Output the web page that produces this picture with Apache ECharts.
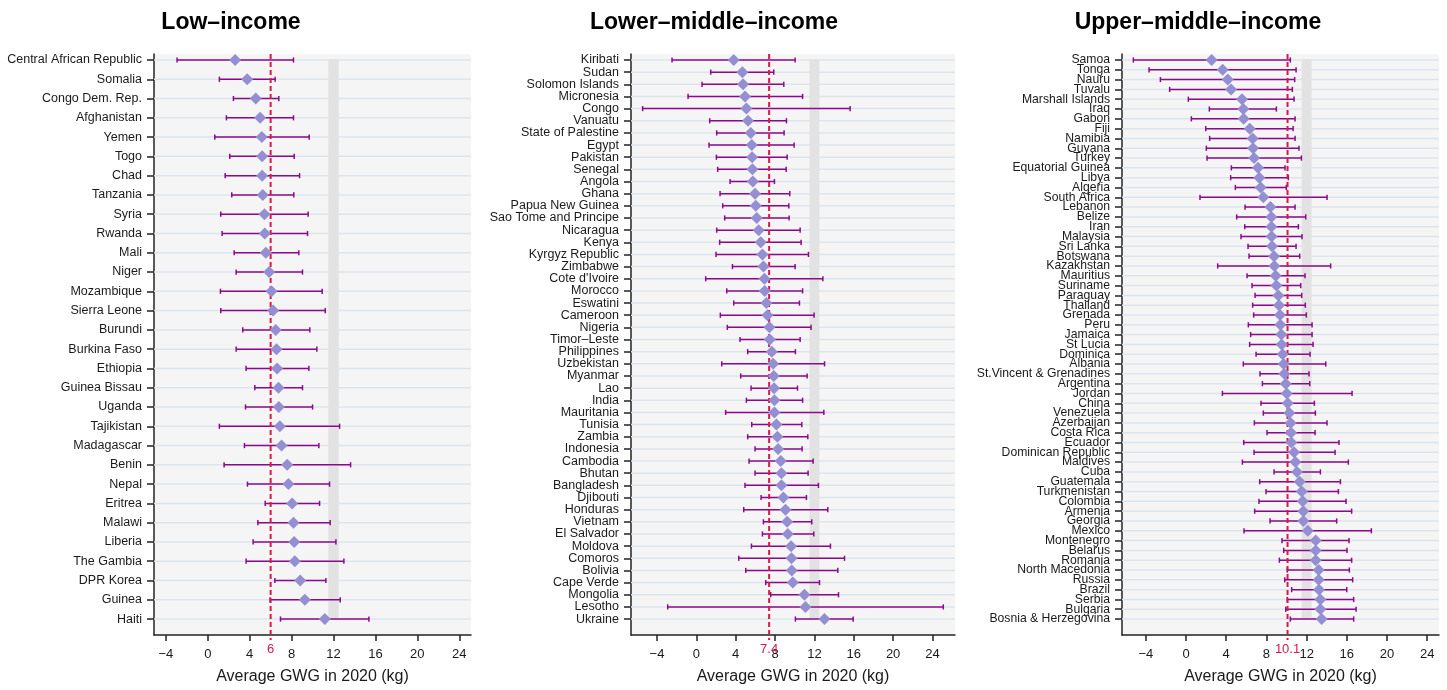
<!DOCTYPE html>
<html>
<head>
<meta charset="utf-8">
<script src="https://cdn.jsdelivr.net/npm/echarts@6/dist/echarts.min.js"></script>
<style>
html,body{margin:0;padding:0;background:#fff;}
#chart{width:1447px;height:690px;}
</style>
</head>
<body>
<div id="chart"></div>
<script>
// ---------- DATA ----------
const panelTitles = ['Low\u2013income', 'Lower\u2013middle\u2013income', 'Upper\u2013middle\u2013income'];
const axisTitle = 'Average GWG in 2020 (kg)';
const xTicks = [-4, 0, 4, 8, 12, 16, 20, 24];
const refValues = [6, 7.4, 10.1];
const bandRange = [11.5, 12.5];

const lowNames = ['Central African Republic','Somalia','Congo Dem. Rep.','Afghanistan','Yemen','Togo','Chad','Tanzania','Syria','Rwanda','Mali','Niger','Mozambique','Sierra Leone','Burundi','Burkina Faso','Ethiopia','Guinea Bissau','Uganda','Tajikistan','Madagascar','Benin','Nepal','Eritrea','Malawi','Liberia','The Gambia','DPR Korea','Guinea','Haiti'];
const lowMean = [2.61,3.76,4.58,5.0,5.16,5.19,5.19,5.25,5.41,5.44,5.54,5.86,6.08,6.24,6.49,6.56,6.62,6.75,6.78,6.88,7.04,7.58,7.70,8.05,8.18,8.25,8.31,8.82,9.26,11.17];
const lowLower = [-2.93,1.11,2.45,1.78,0.67,2.10,1.66,2.29,1.24,1.37,2.52,2.71,1.21,1.24,3.34,2.71,3.66,4.49,3.60,1.11,3.50,1.56,3.79,5.48,4.78,4.33,3.66,6.40,5.95,6.94];
const lowUpper = [8.18,6.43,6.78,8.18,9.68,8.25,8.76,8.21,9.58,9.52,8.69,9.04,10.92,11.21,9.74,10.41,9.65,9.04,10.0,12.58,10.6,13.63,11.62,10.67,11.68,12.23,12.99,11.27,12.64,15.38];

const lmNames = ['Kiribati','Sudan','Solomon Islands','Micronesia','Congo','Vanuatu','State of Palestine','Egypt','Pakistan','Senegal','Angola','Ghana','Papua New Guinea','Sao Tome and Principe','Nicaragua','Kenya','Kyrgyz Republic','Zimbabwe','Cote d\'Ivoire','Morocco','Eswatini','Cameroon','Nigeria','Timor\u2013Leste','Philippines','Uzbekistan','Myanmar','Lao','India','Mauritania','Tunisia','Zambia','Indonesia','Cambodia','Bhutan','Bangladesh','Djibouti','Honduras','Vietnam','El Salvador','Moldova','Comoros','Bolivia','Cape Verde','Mongolia','Lesotho','Ukraine'];
const lmMean = [3.80,4.68,4.75,4.95,5.09,5.26,5.53,5.63,5.67,5.70,5.74,5.97,6.04,6.14,6.34,6.55,6.72,6.82,6.92,6.95,7.12,7.23,7.43,7.46,7.67,7.80,7.87,7.90,7.94,7.94,8.14,8.24,8.31,8.58,8.65,8.65,8.85,9.06,9.23,9.30,9.63,9.67,9.70,9.80,10.99,11.09,13.02];
const lmLower = [-2.47,1.46,0.58,-0.84,-5.46,1.36,2.07,1.29,2.04,2.17,3.43,2.41,2.68,2.88,2.07,2.37,2.0,3.67,0.95,3.09,3.80,2.44,3.15,4.44,5.22,2.58,4.51,5.56,5.09,2.98,5.63,5.22,5.97,5.36,5.97,4.95,6.58,4.82,6.82,6.72,5.60,4.31,5.02,7.05,7.56,-2.91,10.07];
const lmUpper = [10.04,7.87,8.89,10.8,15.63,9.16,8.92,9.94,9.23,9.13,7.94,9.50,9.40,9.43,10.55,10.65,11.4,10.04,12.86,10.8,10.48,11.97,11.66,10.55,10.07,13.03,11.26,10.28,10.80,12.96,10.72,11.33,10.75,11.87,11.36,12.41,11.19,13.36,11.73,11.94,13.63,15.06,14.38,12.52,14.45,25.1,15.94];

const umNames = ['Samoa','Tonga','Nauru','Tuvalu','Marshall Islands','Iraq','Gabon','Fiji','Namibia','Guyana','Turkey','Equatorial Guinea','Libya','Algeria','South Africa','Lebanon','Belize','Iran','Malaysia','Sri Lanka','Botswana','Kazakhstan','Mauritius','Suriname','Paraguay','Thailand','Grenada','Peru','Jamaica','St Lucia','Dominica','Albania','St.Vincent & Grenadines','Argentina','Jordan','China','Venezuela','Azerbaijan','Costa Rica','Ecuador','Dominican Republic','Maldives','Cuba','Guatemala','Turkmenistan','Colombia','Armenia','Georgia','Mexico','Montenegro','Belarus','Romania','North Macedonia','Russia','Brazil','Serbia','Bulgaria','Bosnia & Herzegovina'];
const umMean = [2.55,3.65,4.15,4.48,5.57,5.70,5.74,6.34,6.63,6.67,6.77,7.16,7.30,7.43,7.69,8.39,8.49,8.49,8.52,8.56,8.76,8.79,8.92,8.99,9.19,9.25,9.35,9.39,9.49,9.52,9.62,9.72,9.78,9.92,10.02,10.12,10.28,10.41,10.45,10.48,10.75,10.88,11.04,11.31,11.51,11.61,11.67,11.67,12.11,12.90,12.90,12.90,13.20,13.20,13.23,13.37,13.37,13.50];
const umLower = [-5.24,-3.68,-2.55,-1.63,0.23,2.32,0.53,1.96,2.35,2.02,2.09,4.51,4.44,4.91,1.39,5.87,5.04,5.84,5.47,6.17,6.27,3.15,6.07,6.57,6.87,6.63,6.73,6.20,6.43,6.33,6.97,5.70,7.36,7.60,3.62,7.46,7.69,6.80,8.06,5.74,6.77,5.61,8.76,7.33,7.96,7.26,6.83,8.36,5.77,9.55,9.72,9.29,10.08,9.82,10.51,10.08,9.92,10.38];
const umUpper = [10.38,10.95,10.81,10.58,10.75,8.99,10.85,10.65,10.85,11.24,11.48,9.85,10.18,9.98,14.03,10.85,11.91,11.18,11.54,10.95,11.31,14.39,11.84,11.41,11.51,11.87,11.97,12.54,12.54,12.64,12.34,13.90,12.24,12.31,16.52,12.77,12.87,14.03,12.84,15.22,14.83,16.15,13.37,15.36,15.16,15.92,16.48,14.99,18.44,16.22,16.02,16.48,16.25,16.58,15.99,16.68,16.92,16.68];

// ---------- LAYOUT / STYLE ----------
const panels = [
  {names: lowNames, mean: lowMean, lower: lowLower, upper: lowUpper, left: 154, width: 317, xMin: -5.13, xMax: 25.12, titleX: 226, labelSize: 12.5},
  {names: lmNames, mean: lmMean, lower: lmLower, upper: lmUpper, left: 631, width: 324, xMin: -6.64, xMax: 26.29, titleX: 709, labelSize: 12.5},
  {names: umNames, mean: umMean, lower: umLower, upper: umUpper, left: 1122, width: 317, xMin: -6.37, xMax: 25.17, titleX: 1193, labelSize: 12.2}
];
const gridTop = 54, gridBottomY = 637, firstRowY = 60, lastRowY = 621;
const FONT = '"Liberation Sans", Arial, Helvetica, sans-serif';
const TXT = '#1a1a1a';
const BAR = '#8b0a8b';
const DIAMOND = '#948ed3';
const RED = '#d6184a';

const option = {
  animation: false,
  backgroundColor: '#ffffff',
  title: [], grid: [], xAxis: [], yAxis: [], series: []
};

function fmtTick(v) { return v < 0 ? '\u2212' + Math.abs(v) : String(v); }

panels.forEach((p, k) => {
  const n = p.names.length;
  const spacing = (lastRowY - firstRowY) / (n - 1);
  const yMin = 1 - (firstRowY - gridTop) / spacing;
  const yMax = n + (gridBottomY - lastRowY) / spacing;
  const rows = p.names.map((_, i) => i + 1);
  const oddRows = rows.filter(r => r % 2 === 1);
  const evenRows = rows.filter(r => r % 2 === 0);
  const yi = 2 * k;

  option.title.push({
    text: panelTitles[k], left: p.titleX, top: 6, textAlign: 'center',
    textStyle: {fontFamily: FONT, fontSize: 23, fontWeight: 'bold', color: '#000'}
  });
  option.grid.push({
    left: p.left, width: p.width, top: gridTop, height: gridBottomY - gridTop,
    show: true, backgroundColor: '#f5f5f5', borderWidth: 0
  });
  option.xAxis.push({
    type: 'value', gridIndex: k, min: p.xMin, max: p.xMax,
    name: axisTitle, nameLocation: 'middle', nameGap: 34,
    nameTextStyle: {fontFamily: FONT, fontSize: 16, color: TXT},
    axisLine: {show: true, onZero: false, lineStyle: {color: '#222', width: 1.5}},
    axisTick: {show: true, length: 6, customValues: xTicks, lineStyle: {color: '#222', width: 1.5}},
    axisLabel: {customValues: xTicks, formatter: fmtTick, margin: 13, fontFamily: FONT, fontSize: 13, color: TXT,
      showMinLabel: true, showMaxLabel: true},
    splitLine: {show: false}
  });
  // two label axes (odd / even rows) so dense labels are never dropped
  [oddRows, evenRows].forEach((vals, j) => {
    option.yAxis.push({
      type: 'value', gridIndex: k, min: yMin, max: yMax, inverse: true, position: 'left', offset: 0,
      axisLine: {show: j === 0, onZero: false, lineStyle: {color: '#222', width: 1.5}},
      axisTick: {show: true, length: 7, customValues: vals, lineStyle: {color: '#222', width: 1.5}},
      axisLabel: {customValues: vals, formatter: v => p.names[Math.round(v) - 1] || '', margin: 12,
        fontFamily: FONT, fontSize: p.labelSize, color: TXT, hideOverlap: false,
        showMinLabel: true, showMaxLabel: true},
      splitLine: {show: false}
    });
  });

  // row guide lines
  option.series.push({
    type: 'custom', xAxisIndex: k, yAxisIndex: yi, z: 1, silent: true,
    data: rows.map(r => [r]),
    renderItem: (params, api) => {
      const cs = params.coordSys;
      const y = api.coord([0, api.value(0)])[1];
      return {type: 'line', shape: {x1: cs.x, y1: y, x2: cs.x + cs.width, y2: y},
        style: {stroke: '#dce5ee', lineWidth: 1.5}};
    }
  });
  // grey reference band
  option.series.push({
    type: 'custom', xAxisIndex: k, yAxisIndex: yi, z: 2, silent: true,
    data: [[bandRange[0], bandRange[1], 1, n]],
    renderItem: (params, api) => {
      const a = api.coord([api.value(0), api.value(2)]);
      const b = api.coord([api.value(1), api.value(3)]);
      return {type: 'rect', shape: {x: a[0], y: a[1] - 1, width: b[0] - a[0], height: b[1] - a[1] + 1},
        style: {fill: '#e2e2e2'}};
    }
  });
  // error bars
  option.series.push({
    type: 'custom', xAxisIndex: k, yAxisIndex: yi, z: 3, silent: true, clip: false,
    data: rows.map((r, i) => [p.lower[i], p.upper[i], r]),
    renderItem: (params, api) => {
      const lo = api.coord([api.value(0), api.value(2)]);
      const hi = api.coord([api.value(1), api.value(2)]);
      const h = 2.6;
      const st = {stroke: BAR, lineWidth: 1.5};
      return {type: 'group', children: [
        {type: 'line', shape: {x1: lo[0], y1: lo[1], x2: hi[0], y2: hi[1]}, style: st},
        {type: 'line', shape: {x1: lo[0], y1: lo[1] - h, x2: lo[0], y2: lo[1] + h}, style: st},
        {type: 'line', shape: {x1: hi[0], y1: hi[1] - h, x2: hi[0], y2: hi[1] + h}, style: st}
      ]};
    }
  });
  // reference line with its label
  option.series.push({
    type: 'custom', xAxisIndex: k, yAxisIndex: yi, z: 4, silent: true, clip: false,
    data: [[refValues[k]]],
    renderItem: (params, api) => {
      const cs = params.coordSys;
      const x = api.coord([api.value(0), 1])[0];
      return {type: 'group', children: [
        {type: 'line', shape: {x1: x, y1: cs.y, x2: x, y2: cs.y + cs.height + 5},
          style: {stroke: RED, lineWidth: 2, lineDash: [5, 3]}},
        {type: 'text', style: {text: String(refValues[k]), x: x, y: cs.y + cs.height + 14,
          fill: RED, fontSize: 13, fontFamily: FONT, align: 'center', verticalAlign: 'middle'}}
      ]};
    }
  });
  // mean diamonds
  option.series.push({
    type: 'scatter', xAxisIndex: k, yAxisIndex: yi, z: 5, silent: true,
    symbol: 'diamond', symbolSize: [12, 12],
    itemStyle: {color: DIAMOND, opacity: 1},
    data: rows.map((r, i) => [p.mean[i], r])
  });
});

const chart = echarts.init(document.getElementById('chart'), null, {renderer: 'canvas'});
chart.setOption(option);
</script>
</body>
</html>
